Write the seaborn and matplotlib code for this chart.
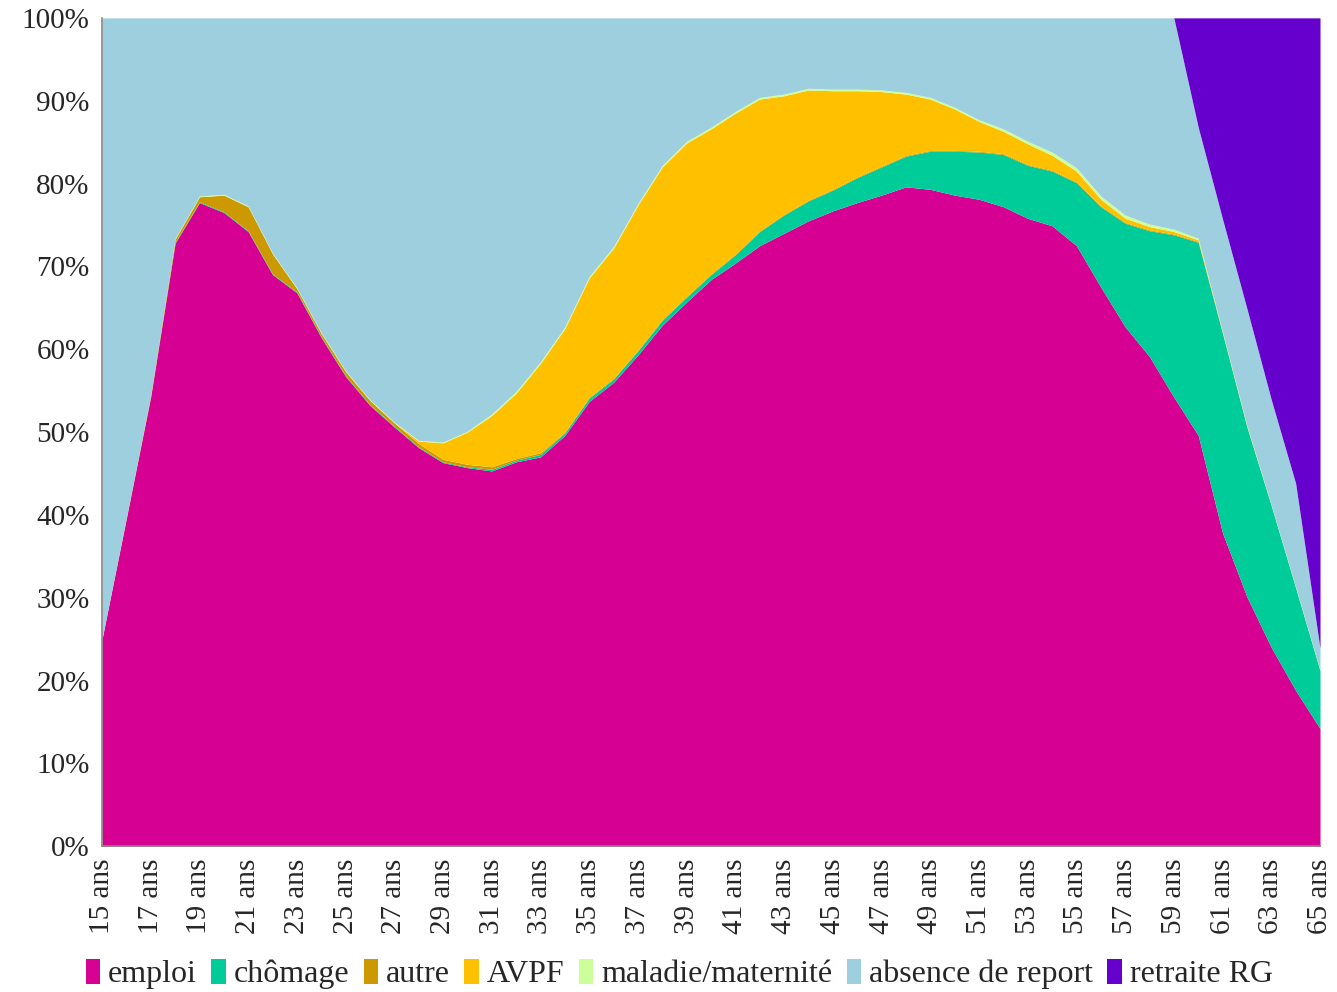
import matplotlib
matplotlib.use("Agg")
import matplotlib.pyplot as plt
import numpy as np
import seaborn as sns

ages = list(range(15, 66))
tick_ages = list(range(15, 66, 2))
tick_labels = [f"{a} ans" for a in tick_ages]

series_names = ["emploi", "chômage", "autre", "AVPF", "maladie/maternité",
                "absence de report", "retraite RG"]

# shares in %, one value per age 15..65
emploi = [25.0, 39.6, 54.3, 72.8, 77.7, 76.5, 74.2, 69.0, 66.8, 61.4,
          56.7, 53.2, 50.6, 48.1, 46.3, 45.7, 45.3, 46.4, 47.0, 49.6,
          53.7, 56.0, 59.3, 62.9, 65.7, 68.4, 70.4, 72.5, 74.0, 75.5,
          76.7, 77.7, 78.6, 79.6, 79.3, 78.6, 78.1, 77.2, 75.8, 74.9,
          72.5, 67.5, 62.7, 59.1, 54.2, 49.6, 37.8, 30.1, 24.0, 18.8, 14.2]
chomage = [0.0, 0.0, 0.0, 0.1, 0.1, 0.1, 0.1, 0.1, 0.1, 0.1,
           0.1, 0.1, 0.1, 0.1, 0.1, 0.1, 0.2, 0.2, 0.3, 0.3,
           0.4, 0.4, 0.5, 0.6, 0.6, 0.6, 1.0, 1.7, 2.2, 2.4,
           2.5, 3.0, 3.4, 3.7, 4.6, 5.3, 5.7, 6.3, 6.4, 6.6,
           7.6, 9.7, 12.5, 15.2, 19.6, 23.3, 24.1, 20.5, 17.1, 12.4, 7.0]
autre = [0.0, 0.1, 0.2, 0.4, 0.6, 2.0, 2.9, 2.4, 0.4, 0.4,
         0.5, 0.5, 0.4, 0.4, 0.3, 0.3, 0.3, 0.2, 0.2, 0.1,
         0.1, 0.1, 0.1, 0.1, 0.1, 0.1, 0.1, 0.1, 0.1, 0.1,
         0.1, 0.1, 0.1, 0.1, 0.1, 0.1, 0.1, 0.1, 0.1, 0.1,
         0.1, 0.1, 0.1, 0.1, 0.1, 0.1, 0.0, 0.0, 0.0, 0.0, 0.0]
avpf = [0.0, 0.0, 0.0, 0.0, 0.0, 0.0, 0.0, 0.0, 0.0, 0.0,
        0.0, 0.0, 0.0, 0.3, 2.0, 3.9, 6.2, 7.9, 10.8, 12.5,
        14.4, 15.7, 17.5, 18.4, 18.5, 17.5, 17.0, 15.9, 14.3, 13.3,
        11.9, 10.4, 9.0, 7.4, 6.2, 5.0, 3.6, 2.7, 2.5, 1.8,
        1.3, 0.8, 0.5, 0.4, 0.3, 0.2, 0.1, 0.1, 0.0, 0.0, 0.0]
maladie = [0.0, 0.0, 0.0, 0.1, 0.1, 0.1, 0.1, 0.1, 0.1, 0.1,
           0.1, 0.1, 0.1, 0.1, 0.1, 0.1, 0.2, 0.2, 0.2, 0.2,
           0.2, 0.2, 0.2, 0.2, 0.2, 0.2, 0.2, 0.2, 0.2, 0.2,
           0.2, 0.2, 0.2, 0.2, 0.2, 0.2, 0.2, 0.3, 0.3, 0.4,
           0.4, 0.4, 0.4, 0.3, 0.3, 0.2, 0.1, 0.1, 0.1, 0.1, 0.1]
absence = [75.0, 60.3, 45.5, 26.6, 21.5, 21.3, 22.7, 28.4, 32.6, 38.0,
           42.6, 46.1, 48.8, 51.0, 51.2, 49.9, 47.8, 45.1, 41.5, 37.3,
           31.2, 27.6, 22.4, 17.8, 14.9, 13.2, 11.3, 9.6, 9.2, 8.5,
           8.6, 8.6, 8.7, 9.0, 9.6, 10.8, 12.3, 13.4, 14.9, 16.2,
           18.1, 21.5, 23.8, 24.9, 25.5, 13.4, 13.6, 14.1, 12.7, 12.5, 2.6]
retraite = [0.0] * 45 + [13.2, 24.3, 35.1, 46.1, 56.2, 76.1]

colors = ["#D60093", "#00CC99", "#CC9900", "#FFC000", "#CCFF99",
          "#9ECFDF", "#6600CC"]

sns.set_theme(style="white")
plt.rcParams["font.family"] = ["Liberation Serif", "DejaVu Serif"]

fig, ax = plt.subplots(figsize=(13.37, 9.92), dpi=100)
fig.subplots_adjust(left=0.0763, right=0.9873, top=0.982, bottom=0.147)

stacks = ax.stackplot(ages, emploi, chomage, autre, avpf, maladie, absence,
                      retraite, colors=sns.color_palette(colors),
                      labels=series_names, linewidth=0)

ax.set_xlim(15, 65)
ax.set_ylim(0, 100)
ax.set_xticks(tick_ages)
ax.set_xticklabels(tick_labels, rotation=90, fontsize=21)
ax.set_yticks(np.arange(0, 101, 10))
ax.set_yticklabels([f"{v}%" for v in range(0, 101, 10)], fontsize=21)
ax.tick_params(axis="both", length=0, pad=9)
for side in ["top", "right"]:
    ax.spines[side].set_visible(False)
for side in ["left", "bottom"]:
    ax.spines[side].set_color("#888888")
    ax.spines[side].set_linewidth(1.2)

fig.legend(handles=stacks, labels=series_names, loc="center",
           bbox_to_anchor=(0.508, 1 - 974 / 992), ncol=7, frameon=False,
           fontsize=23, handlelength=0.45, handleheight=0.85,
           handletextpad=0.25, columnspacing=0.45, borderaxespad=0)

fig.savefig("out.png", dpi=100)
